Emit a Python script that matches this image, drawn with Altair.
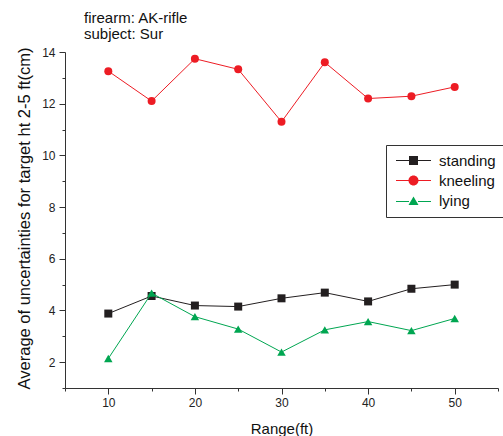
import altair as alt
import pandas as pd

ranges = [10, 15, 20, 25, 30, 35, 40, 45, 50]
standing = [3.88, 4.56, 4.19, 4.15, 4.47, 4.69, 4.35, 4.84, 5.00]
kneeling = [13.26, 12.10, 13.74, 13.33, 11.30, 13.60, 12.20, 12.29, 12.65]
lying = [2.14, 4.67, 3.76, 3.28, 2.39, 3.25, 3.57, 3.22, 3.69]

series_names = ["standing", "kneeling", "lying"]
series_values = [standing, kneeling, lying]
series_colors = ["#231f20", "#ed1c24", "#00a651"]
series_shapes = ["square", "circle", "triangle-up"]
series_sizes = [64, 64, 72]

x_major = [10, 20, 30, 40, 50]
x_minor = [5, 15, 25, 35, 45, 55]
y_major = [2, 4, 6, 8, 10, 12, 14]
y_minor = [1, 3, 5, 7, 9, 11, 13]

rows = []
for name, vals in zip(series_names, series_values):
    for r, v in zip(ranges, vals):
        rows.append({"range": r, "value": v, "series": name})
df = pd.DataFrame(rows)

FONT = "Liberation Sans"
xscale = alt.Scale(domain=[5, 55], nice=False, zero=False)
yscale = alt.Scale(domain=[1, 14], nice=False, zero=False)

major_x_axis = alt.Axis(values=x_major, tickSize=6, labelPadding=3, grid=False,
                        title="Range(ft)", titleFontSize=15, titleFont=FONT,
                        titleFontWeight="normal", titleColor="#111",
                        titleBaseline="alphabetic", titleY=45,
                        labelFont=FONT, labelFontSize=12, labelColor="#222",
                        domainColor="#333", tickColor="#333", labelFlush=False)
minor_x_axis = alt.Axis(values=x_minor, tickSize=3, labels=False, domain=False,
                        grid=False, title=None, tickColor="#333", orient="bottom")
major_y_axis = alt.Axis(values=y_major, tickSize=6, labelPadding=4, grid=False,
                        title="Average of uncertainties for target ht 2-5 ft(cm)",
                        titleFontSize=16.5, titleFont=FONT, titleFontWeight="normal",
                        titleColor="#111", titleX=-33, titleY=166, titleAngle=-90,
                        titleBaseline="bottom", titleAlign="center",
                        labelFont=FONT, labelFontSize=12, labelColor="#222",
                        domainColor="#333", tickColor="#333", labelFlush=False)
minor_y_axis = alt.Axis(values=y_minor, tickSize=3, labels=False, domain=False,
                        grid=False, title=None, tickColor="#333", orient="left")

layers = []
for i, (name, color, shape, size) in enumerate(zip(series_names, series_colors, series_shapes, series_sizes)):
    sub = alt.Chart(df).transform_filter(alt.datum.series == name)
    if i == 0:
        xa, ya = major_x_axis, major_y_axis
    elif i == 1:
        xa, ya = minor_x_axis, minor_y_axis
    else:
        xa, ya = None, None
    line = sub.mark_line(color=color, strokeWidth=1).encode(
        x=alt.X("range:Q", scale=xscale, axis=xa),
        y=alt.Y("value:Q", scale=yscale, axis=ya),
    )
    pts = sub.mark_point(filled=True, color=color, shape=shape, size=size, opacity=1).encode(
        x=alt.X("range:Q", scale=xscale, axis=None),
        y=alt.Y("value:Q", scale=yscale, axis=None),
    )
    layers += [line, pts]

legend_paths = [
    "M-3.5,-0.1H-0.9V-0.9H0.9V-0.1H3.5V0.1H0.9V0.9H-0.9V0.1H-3.5Z",
    "M-3.5,-0.1H-0.9V0.1H-3.5Z M0.9,-0.1H3.5V0.1H0.9Z M-1,0A1,1 0 1,1 1,0A1,1 0 1,1 -1,0Z",
    "M-3.5,0.1H-0.9V0.3H-3.5Z M0.9,0.1H3.5V0.3H0.9Z M0,-0.8L1,0.9H-1Z",
]
legend_layer = alt.Chart(df).transform_filter("false").mark_point(filled=True, opacity=1).encode(
    x=alt.X("range:Q", scale=xscale, axis=None),
    y=alt.Y("value:Q", scale=yscale, axis=None),
    color=alt.Color("series:N", scale=alt.Scale(domain=series_names, range=series_colors),
                    legend=alt.Legend(orient="none", legendX=321, legendY=93, title=None,
                                      labelFont=FONT, labelFontSize=15, labelColor="#111",
                                      strokeColor="#333", fillColor="white", padding=8,
                                      rowPadding=4, symbolSize=100, symbolStrokeWidth=0,
                                      symbolOpacity=1,
                                      symbolOffset=12, labelOffset=18)),
    shape=alt.Shape("series:N", scale=alt.Scale(domain=series_names, range=legend_paths),
                    legend=alt.Legend(orient="none", legendX=321, legendY=93, title=None)),
)
layers.append(legend_layer)

chart = alt.layer(*layers).resolve_axis(x="independent", y="independent").properties(
    width=433, height=336,
    autosize=alt.AutoSizeParams(type="none"),
    padding={"left": 65, "top": 52, "right": 5, "bottom": 48},
    title=alt.TitleParams(["firearm: AK-rifle", "subject: Sur"], anchor="start", dx=19, dy=22,
                          fontSize=15, font=FONT, fontWeight="normal", color="#111",
                          lineHeight=16, baseline="bottom", offset=11, frame="group"),
).configure_view(stroke=None)

chart.save("out.html", embed_options={"renderer": "svg", "actions": False})
